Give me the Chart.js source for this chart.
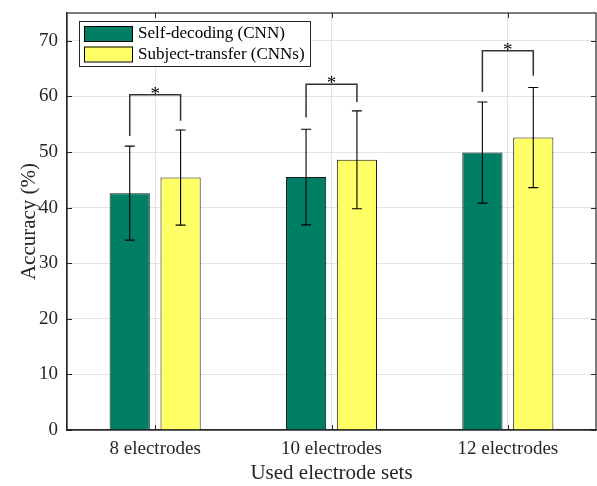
<!DOCTYPE html>
<html>
<head>
<meta charset="utf-8">
<script src="https://cdn.jsdelivr.net/npm/chart.js@4"></script>
<style>
  html, body { margin: 0; padding: 0; background: #ffffff; }
  canvas { display: block; }
</style>
</head>
<body>
<canvas id="chart" width="597" height="486"></canvas>
<script>
// Mean decoding accuracy (%) per electrode set, with standard deviations
const categories = ['8 electrodes', '10 electrodes', '12 electrodes'];
const seriesNames = ['Self-decoding (CNN)', 'Subject-transfer (CNNs)'];
const selfMean = [42.6, 45.5, 49.9];
const selfStd = [8.45, 8.6, 9.1];
const transferMean = [45.4, 48.6, 52.6];
const transferStd = [8.55, 8.8, 9.0];

// Significance brackets (accuracy units): top bar and the lower ends of both legs
const bracketTop = [60.3, 62.2, 68.2];
const bracketLeftEnd = [52.9, 56.2, 60.8];
const bracketRightEnd = [55.6, 59.0, 63.7];
const significanceMark = ['*', '*', '*'];

const yTicks = [0, 10, 20, 30, 40, 50, 60, 70];
const yMax = 75;

const FONT = '"Liberation Serif", "Times New Roman", serif';
const AXIS = '#262626';
const GRID = '#e3e3e3';
const GREEN = '#007f66';
const YELLOW = '#ffff66';

const errorBars = {
  id: 'errorBars',
  afterDatasetsDraw(chart) {
    const ctx = chart.ctx;
    const y = chart.scales.y;
    const stds = [selfStd, transferStd];
    const means = [selfMean, transferMean];
    ctx.save();
    ctx.strokeStyle = '#000000';
    ctx.lineWidth = 1.1;
    stds.forEach((sd, i) => {
      chart.getDatasetMeta(i).data.forEach((bar, j) => {
        const x = bar.x;
        const yHi = y.getPixelForValue(means[i][j] + sd[j]);
        const yLo = y.getPixelForValue(means[i][j] - sd[j]);
        ctx.beginPath();
        ctx.moveTo(x, yHi); ctx.lineTo(x, yLo);
        ctx.moveTo(x - 5, yHi); ctx.lineTo(x + 5, yHi);
        ctx.moveTo(x - 5, yLo); ctx.lineTo(x + 5, yLo);
        ctx.stroke();
      });
    });
    // significance brackets between the two bars of each group
    ctx.strokeStyle = '#333333';
    ctx.lineWidth = 1.5;
    const left = chart.getDatasetMeta(0).data;
    const right = chart.getDatasetMeta(1).data;
    categories.forEach((c, j) => {
      const xl = left[j].x, xr = right[j].x;
      const yt = y.getPixelForValue(bracketTop[j]);
      ctx.beginPath();
      ctx.moveTo(xl, y.getPixelForValue(bracketLeftEnd[j]));
      ctx.lineTo(xl, yt);
      ctx.lineTo(xr, yt);
      ctx.lineTo(xr, y.getPixelForValue(bracketRightEnd[j]));
      ctx.stroke();
      ctx.fillStyle = '#000000';
      ctx.font = '19px ' + FONT;
      ctx.textAlign = 'center';
      ctx.textBaseline = 'alphabetic';
      ctx.fillText(significanceMark[j], chart.scales.x.getPixelForValue(j), yt + 5);
    });
    ctx.restore();
  }
};

const frameAndLegend = {
  id: 'frameAndLegend',
  afterDraw(chart) {
    const ctx = chart.ctx;
    const a = chart.chartArea;
    const x = chart.scales.x, y = chart.scales.y;
    ctx.save();
    // box around the axes with inward tick marks
    ctx.strokeStyle = AXIS;
    ctx.lineWidth = 1.2;
    ctx.strokeRect(a.left, a.top, a.right - a.left, a.bottom - a.top);
    ctx.lineWidth = 1;
    ctx.beginPath();
    yTicks.forEach(v => {
      const py = Math.round(y.getPixelForValue(v)) + 0.5;
      ctx.moveTo(a.left, py); ctx.lineTo(a.left + 5, py);
      ctx.moveTo(a.right, py); ctx.lineTo(a.right - 5, py);
    });
    categories.forEach((c, j) => {
      const px = Math.round(x.getPixelForValue(j)) + 0.5;
      ctx.moveTo(px, a.bottom); ctx.lineTo(px, a.bottom - 5);
      ctx.moveTo(px, a.top); ctx.lineTo(px, a.top + 5);
    });
    ctx.stroke();

    // legend box in the upper-left corner of the axes
    const lx = a.left + 12, ly = a.top + 8, lw = 231, lh = 45;
    ctx.fillStyle = '#ffffff';
    ctx.fillRect(lx, ly, lw, lh);
    ctx.strokeStyle = AXIS;
    ctx.lineWidth = 1;
    ctx.strokeRect(lx + 0.5, ly + 0.5, lw, lh);
    const colors = [GREEN, YELLOW];
    ctx.font = '17px ' + FONT;
    ctx.textAlign = 'left';
    ctx.textBaseline = 'middle';
    seriesNames.forEach((name, i) => {
      const sy = ly + 5 + i * 20.5;
      ctx.fillStyle = colors[i];
      ctx.fillRect(lx + 5, sy, 49, 15);
      ctx.strokeStyle = '#000000';
      ctx.strokeRect(lx + 5.5, sy + 0.5, 48, 15);
      ctx.fillStyle = '#000000';
      ctx.fillText(name, lx + 59, sy + 8);
    });
    ctx.restore();
  }
};

new Chart(document.getElementById('chart'), {
  type: 'bar',
  data: {
    labels: categories,
    datasets: [
      {
        label: seriesNames[0], data: selfMean,
        backgroundColor: GREEN, borderColor: '#1a1a1a', borderWidth: 1,
        categoryPercentage: 0.577, barPercentage: 0.79
      },
      {
        label: seriesNames[1], data: transferMean,
        backgroundColor: YELLOW, borderColor: '#1a1a1a', borderWidth: 1,
        categoryPercentage: 0.577, barPercentage: 0.79
      }
    ]
  },
  options: {
    responsive: false,
    animation: false,
    devicePixelRatio: 1,
    layout: { padding: { top: 13, right: 1, left: 0, bottom: 0 } },
    plugins: { legend: { display: false }, tooltip: { enabled: false } },
    scales: {
      x: {
        grid: { offset: false, color: GRID, drawTicks: false },
        border: { color: AXIS, width: 1.2 },
        ticks: { color: '#262626', font: { family: FONT, size: 19 }, padding: 8 },
        title: {
          display: true, text: 'Used electrode sets', color: '#262626',
          font: { family: FONT, size: 21 }, padding: { top: 0, bottom: 0 }
        },
        afterFit(s) { s.height = 56; s.paddingLeft = 0; s.paddingRight = 0; }
      },
      y: {
        min: 0, max: yMax,
        afterBuildTicks(s) { s.ticks = yTicks.map(v => ({ value: v })); },
        grid: { color: GRID, drawTicks: false },
        border: { color: AXIS, width: 1.2 },
        ticks: { color: '#262626', font: { family: FONT, size: 19 }, padding: 9 },
        title: {
          display: true, text: 'Accuracy (%)', color: '#262626',
          font: { family: FONT, size: 21 }, padding: { top: 17, bottom: 0 }
        },
        afterFit(s) { s.width = 67; s.paddingTop = 0; s.paddingBottom = 0; }
      }
    }
  },
  plugins: [errorBars, frameAndLegend]
});
</script>
</body>
</html>
